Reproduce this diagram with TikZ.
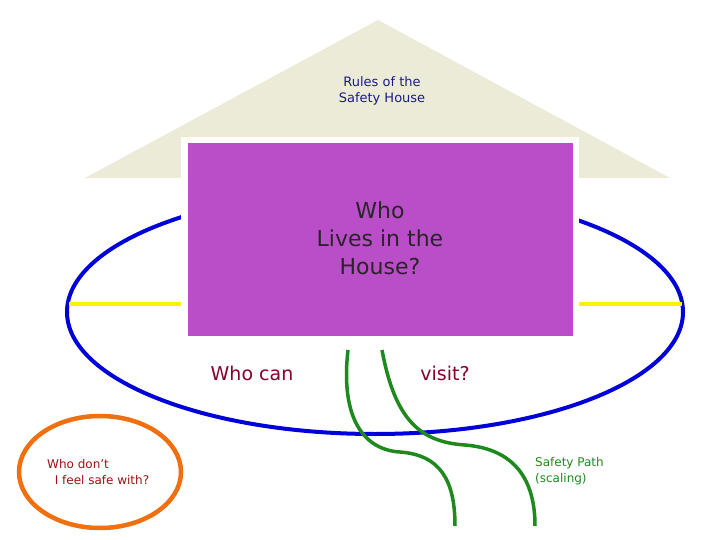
\documentclass[tikz,border=0pt]{standalone}
\usepackage{fontspec}
\setmainfont{DejaVu Sans}
\definecolor{roof}{HTML}{EBEBD7}
\definecolor{purp}{HTML}{BA4EC8}
\definecolor{navy}{HTML}{1A1A8C}
\definecolor{dred}{HTML}{A01010}
\definecolor{grn}{HTML}{1E8A1E}
\definecolor{org}{HTML}{F07010}
\begin{document}
\begin{tikzpicture}[x=1pt,y=-1pt,
  lbl/.style={inner sep=0pt,align=center},
  pathline/.style={draw=grn,line width=3.5pt}]
\useasboundingbox[fill=white] (0,0) rectangle (720,540);
\fill[roof] (85,178) -- (378,20) -- (670,178) -- cycle;
\node[lbl,text=navy,font=\fontsize{13}{16}\selectfont] (rules) at (382,91) {Rules of the\\ Safety House};
\draw[blue!85!black,line width=4pt] (375,312) ellipse [x radius=308,y radius=122];
\draw[yellow,line width=3.5pt] (69,304) -- (183,304);
\draw[yellow,line width=3.5pt] (578,304) -- (682,304);
\fill[white] (181,137) rectangle (579,341);
\node[fill=purp,minimum width=385pt,minimum height=193pt,inner sep=0pt] (house) at (380.5,239.5) {};
\node[lbl,font=\fontsize{22}{28}\selectfont,text=black!85] (who) at (380,238) {Who\\Lives in the\\House?};
\node[lbl,font=\fontsize{19}{22}\selectfont,text=purple!70!black] (can) at (252,373) {Who can};
\node[lbl,font=\fontsize{19}{22}\selectfont,text=purple!70!black] (visit) at (445,373) {visit?};
\coordinate (p1a) at (348,350); \coordinate (p1b) at (455,526);
\coordinate (p2a) at (382,350); \coordinate (p2b) at (535,526);
\draw[pathline] (p1a) .. controls (340,420) and (365,450) .. (400,452) .. controls (440,455) and (455,480) .. (p1b);
\draw[pathline] (p2a) .. controls (395,420) and (420,442) .. (465,445) .. controls (515,449) and (535,480) .. (p2b);
\node[lbl,align=left,text=grn,font=\fontsize{12}{16}\selectfont,anchor=west] (safety) at (535,471) {Safety Path\\(scaling)};
\draw[org,line width=4.5pt] (100,472) ellipse [x radius=81,y radius=56];
\node[lbl,align=left,text=dred,font=\fontsize{12}{16}\selectfont,anchor=west] (dont) at (47,472) {Who don’t\\\ \ I feel safe with?};
\end{tikzpicture}
\end{document}
